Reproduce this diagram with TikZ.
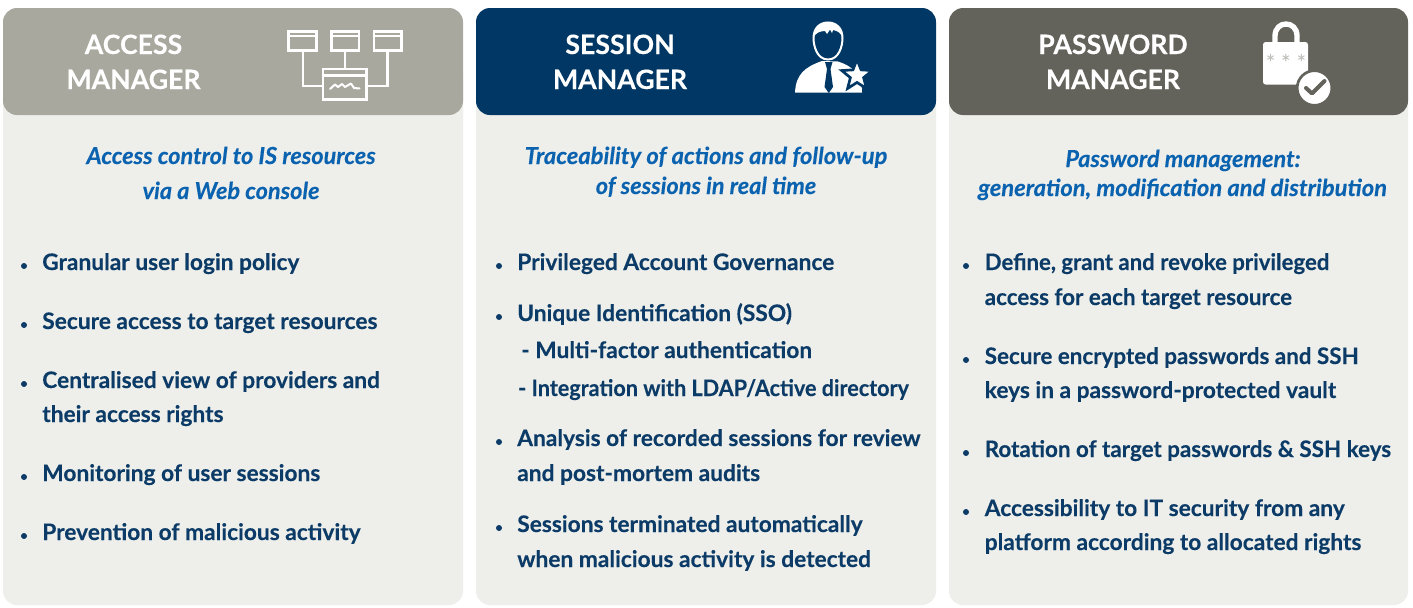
\documentclass[tikz,border=0pt]{standalone}
\usepackage{fontspec}
\setmainfont{Lato}[BoldFeatures={FakeBold=0.25},BoldItalicFeatures={FakeBold=0.25}]
\usetikzlibrary{shapes.geometric}
\definecolor{panelbg}{HTML}{EEEFEB}
\definecolor{hgrey}{HTML}{A8A89F}
\definecolor{hblue}{HTML}{003764}
\definecolor{hdark}{HTML}{63635B}
\definecolor{tblue}{HTML}{0B3B66}
\definecolor{subblue}{HTML}{0B63B0}
\tikzset{
 panel/.style={fill=panelbg,draw=none,rounded corners=10.5pt},
 head/.style={rounded corners=10.5pt,draw=none},
 title/.style={anchor=base,text=white,font=\fontsize{20}{24}\selectfont\bfseries,inner sep=0pt},
 sub/.style={anchor=base,text=subblue,font=\fontsize{17.6}{20}\selectfont\bfseries\itshape,inner sep=0pt},
 item/.style={anchor=base west,text=tblue,font=\fontsize{17.05}{20}\selectfont\bfseries,inner sep=0pt},
 dot/.style={circle,fill=tblue,minimum size=4.5pt,inner sep=0pt,draw=none},
 ico/.style={draw=white,line width=1.6pt,fill=none},
}
\begin{document}
\begin{tikzpicture}[x=0.75pt,y=-0.75pt]
\useasboundingbox (0,0) rectangle (1413,607);
\fill[white] (0,0) rectangle (1413,607);
% panels
\fill[panel] (3,60) rectangle (463,605);
\fill[panel] (476,60) rectangle (936,605);
\fill[panel] (949,60) rectangle (1408,605);
% headers
\fill[head,hgrey] (3,8) rectangle (463,115);
\fill[head,hblue] (476,8) rectangle (936,115);
\fill[head,hdark] (949,8) rectangle (1408,115);
% titles
\node[title] (t1a) at (133.5,54) {ACCESS};
\node[title] (t1b) at (133.5,89) {MANAGER};
\node[title] (t2a) at (620,54) {SESSION};
\node[title] (t2b) at (620,89) {MANAGER};
\node[title] (t3a) at (1113,54) {PASSWORD};
\node[title] (t3b) at (1113,89) {MANAGER};
% icon 1
 \draw[ico] (288.5,31.5) rectangle (316.5,50.5); \draw[ico] (288.5,36) -- (316.5,36);
 \draw[ico] (331.5,31.5) rectangle (359,50.5); \draw[ico] (331.5,36) -- (359,36);
 \draw[ico] (374,31.5) rectangle (401.5,50.5); \draw[ico] (374,36) -- (401.5,36);
 \draw[ico] (323,69) rectangle (366.5,99.5); \draw[ico] (323,75.5) -- (366.5,75.5);
 \draw[ico] (303,50.5) -- (303,86) -- (323,86);
 \draw[ico] (345,50.5) -- (345,69);
 \draw[ico] (387.5,50.5) -- (387.5,86) -- (366.5,86);
 \draw[white,line width=1.5pt,line join=round,line cap=round] (330,89) -- (335,84.5) -- (338,87) -- (342,84) -- (345,87) -- (351,83.5) -- (354,88) -- (359.5,88.5);
% icon 2
\fill[white] (795,92.5) .. controls (796,74) and (805,67) .. (822,61) -- (838,61.5) .. controls (852,66) and (862,74) .. (862,92.5) -- cycle;
\fill[hblue] (825,62) -- (832.5,62) -- (830.5,69) -- (833,87) -- (828.8,93) -- (824.5,87) -- (827,69) -- cycle;
\draw[white,line width=1.5pt,fill=hblue] (828,59.5) .. controls (817,59.5) and (813.5,46) .. (813.5,38) .. controls (813.5,28) and (820,22.5) .. (828,22.5) .. controls (836,22.5) and (842.5,28) .. (842.5,38) .. controls (842.5,46) and (839,59.5) .. (828,59.5) -- cycle;
\fill[white] (813.5,38) .. controls (813.5,28) and (820,22.5) .. (828,22.5) .. controls (836,22.5) and (842.5,28) .. (842.5,38) .. controls (841,33) and (838,31) .. (833,30) -- (832,33) -- (830,29.5) -- (827,34) -- (825,31) .. controls (820,31) and (815,33) .. (813.5,38) -- cycle;
\node[star,star points=5,star point ratio=2.3,fill=white,draw=hblue,line width=2pt,minimum size=24pt,inner sep=0pt] (st) at (857,75.5) {};
% icon 3
\draw[white,line width=4pt] (1275,46) -- (1275,36) .. controls (1275,20) and (1297,20) .. (1297,36) -- (1297,46);
\fill[white,rounded corners=2pt] (1263,42) rectangle (1308,84.5);
\node[circle,fill=white,draw=hdark,line width=2pt,minimum size=26pt,inner sep=0pt] (ck) at (1314.5,88) {};
\draw[hdark,line width=3pt,line cap=round,line join=round] (1306,88) -- (1312,93.5) -- (1324.5,81);
\node[anchor=center,text=hdark!45!white,inner sep=0pt,font=\fontsize{17}{17}\selectfont] (ast) at (1286,63) {* * *};
% subtitles
\node[sub] (s1a) at (231,164) {Access control to IS resources};
\node[sub] (s1b) at (231,199) {via a Web console};
\node[sub,xscale=1.012,transform shape] (s2a) at (706,164) {Traceability of actions and follow-up};
\node[sub] (s2b) at (706,194) {of sessions in real time};
\node[sub] (s3a) at (1183,167) {Password management:};
\node[sub,xscale=1.012,transform shape] (s3b) at (1182.5,196) {generation, modification and distribution};
% column 1
\node[dot] (d11) at (24,266) {}; \node[item] (i11) at (42,270) {Granular user login policy};
\node[dot] (d12) at (24,325) {}; \node[item] (i12) at (42,329) {Secure access to target resources};
\node[dot] (d13) at (24,384) {}; \node[item] (i13) at (42,388) {Centralised view of providers and};
\node[item] (i13b) at (42,422) {their access rights};
\node[dot] (d14) at (24,477) {}; \node[item] (i14) at (42,481) {Monitoring of user sessions};
\node[dot] (d15) at (24,536) {}; \node[item] (i15) at (42,540) {Prevention of malicious activity};
% column 2
\node[dot] (d21) at (499,266) {}; \node[item] (i21) at (517,270) {Privileged Account Governance};
\node[dot] (d22) at (499,317) {}; \node[item] (i22) at (517,321) {Unique Identification (SSO)};
\node[item] (i22b) at (521,358) {- Multi-factor authentication};
\node[item,xscale=0.95,transform shape] (i22c) at (518,396) {- Integration with LDAP/Active directory};
\node[dot] (d23) at (499,442) {}; \node[item] (i23) at (517,446) {Analysis of recorded sessions for review};
\node[item] (i23b) at (517,481) {and post-mortem audits};
\node[dot] (d24) at (499,528) {}; \node[item] (i24) at (517,532) {Sessions terminated automatically};
\node[item] (i24b) at (517,567) {when malicious activity is detected};
% column 3
\node[dot] (d31) at (966,266) {}; \node[item,xscale=0.975,transform shape] (i31) at (984.5,270) {Define, grant and revoke privileged};
\node[item,xscale=0.985,transform shape] (i31b) at (984.5,305) {access for each target resource};
\node[dot] (d32) at (966,360) {}; \node[item,xscale=0.985,transform shape] (i32) at (984.5,364) {Secure encrypted passwords and SSH};
\node[item] (i32b) at (984.5,398) {keys in a password-protected vault};
\node[dot] (d33) at (966,453) {}; \node[item,xscale=0.985,transform shape] (i33) at (984.5,457) {Rotation of target passwords \& SSH keys};
\node[dot] (d34) at (966,512) {}; \node[item] (i34) at (984.5,516) {Accessibility to IT security from any};
\node[item] (i34b) at (984.5,550) {platform according to allocated rights};
\end{tikzpicture}
\end{document}
